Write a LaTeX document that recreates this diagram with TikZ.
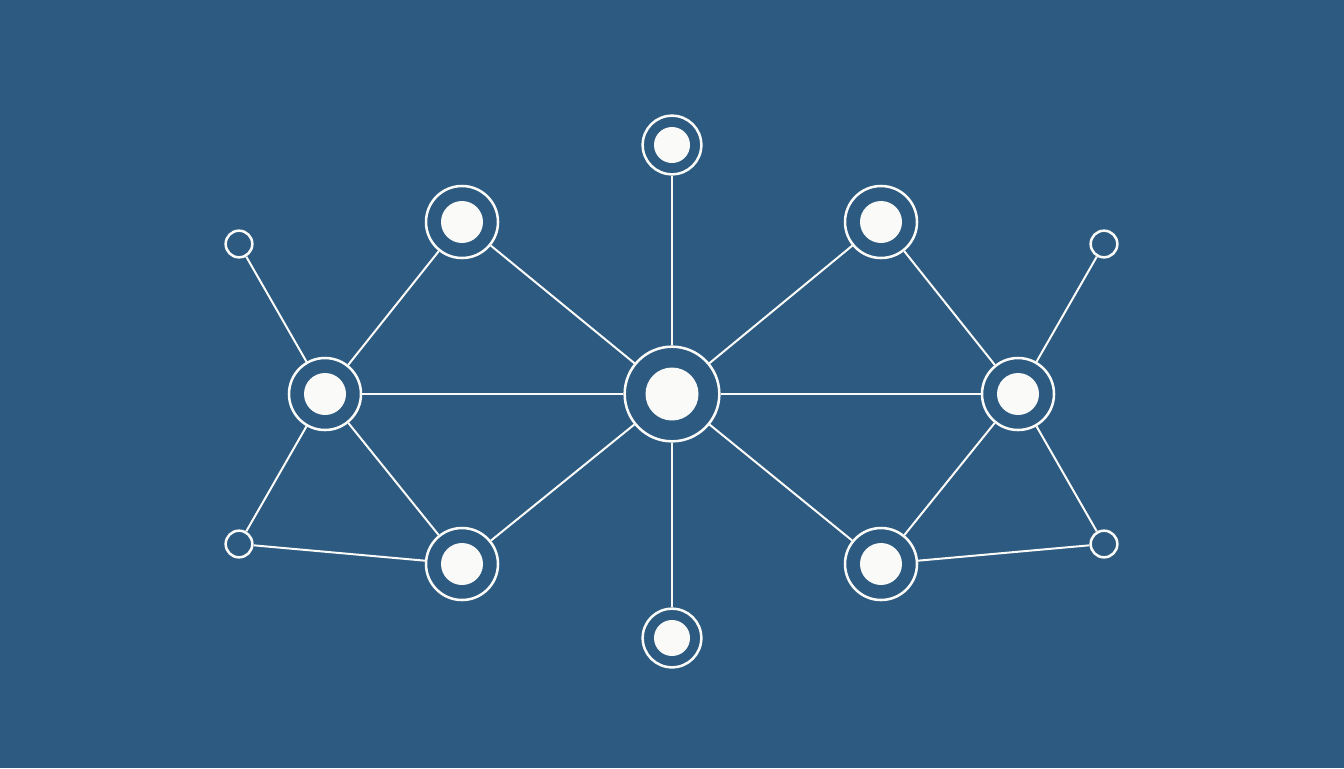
\documentclass[tikz,border=0pt]{standalone}
\definecolor{bg}{HTML}{2C5A80}
\definecolor{nodewhite}{HTML}{FAFAF8}
\begin{document}
\begin{tikzpicture}[x=0.75pt,y=-0.75pt,
  ring/.style={circle,draw=nodewhite,line width=1.9pt,fill=bg,inner sep=0pt},
  big/.style={ring,minimum size=71pt},
  mid/.style={ring,minimum size=54pt},
  top/.style={ring,minimum size=44pt},
  leaf/.style={ring,minimum size=20pt,line width=1.9pt},
  edge/.style={draw=nodewhite,line width=1.5pt}]
\fill[bg] (0,0) rectangle (1344,768);
\useasboundingbox (0,0) rectangle (1344,768);
% nodes
\node[big] (C) at (672,394) {};
\node[top] (T) at (672,145) {};
\node[top] (B) at (672,638) {};
\node[mid] (UL) at (462,222) {};
\node[mid] (UR) at (881,222) {};
\node[mid] (LL) at (462,564) {};
\node[mid] (LR) at (881,564) {};
\node[mid] (L) at (325,394) {};
\node[mid] (R) at (1018,394) {};
\node[leaf] (a) at (239,244) {};
\node[leaf] (b) at (239,544) {};
\node[leaf] (c) at (1104,244) {};
\node[leaf] (d) at (1104,544) {};
% edges
\foreach \u/\v in {C/T,C/B,C/L,C/R,C/UL,C/UR,C/LL,C/LR,UL/L,LL/L,UR/R,LR/R,a/L,b/L,b/LL,c/R,d/R,d/LR}
  \path[edge] (\u) -- (\v);
% inner disks
\fill[nodewhite] (C) circle (26.5);
\fill[nodewhite] (T) circle (18);
\fill[nodewhite] (B) circle (18);
\foreach \n in {UL,UR,LL,LR,L,R} \fill[nodewhite] (\n) circle (21);
\end{tikzpicture}
\end{document}
